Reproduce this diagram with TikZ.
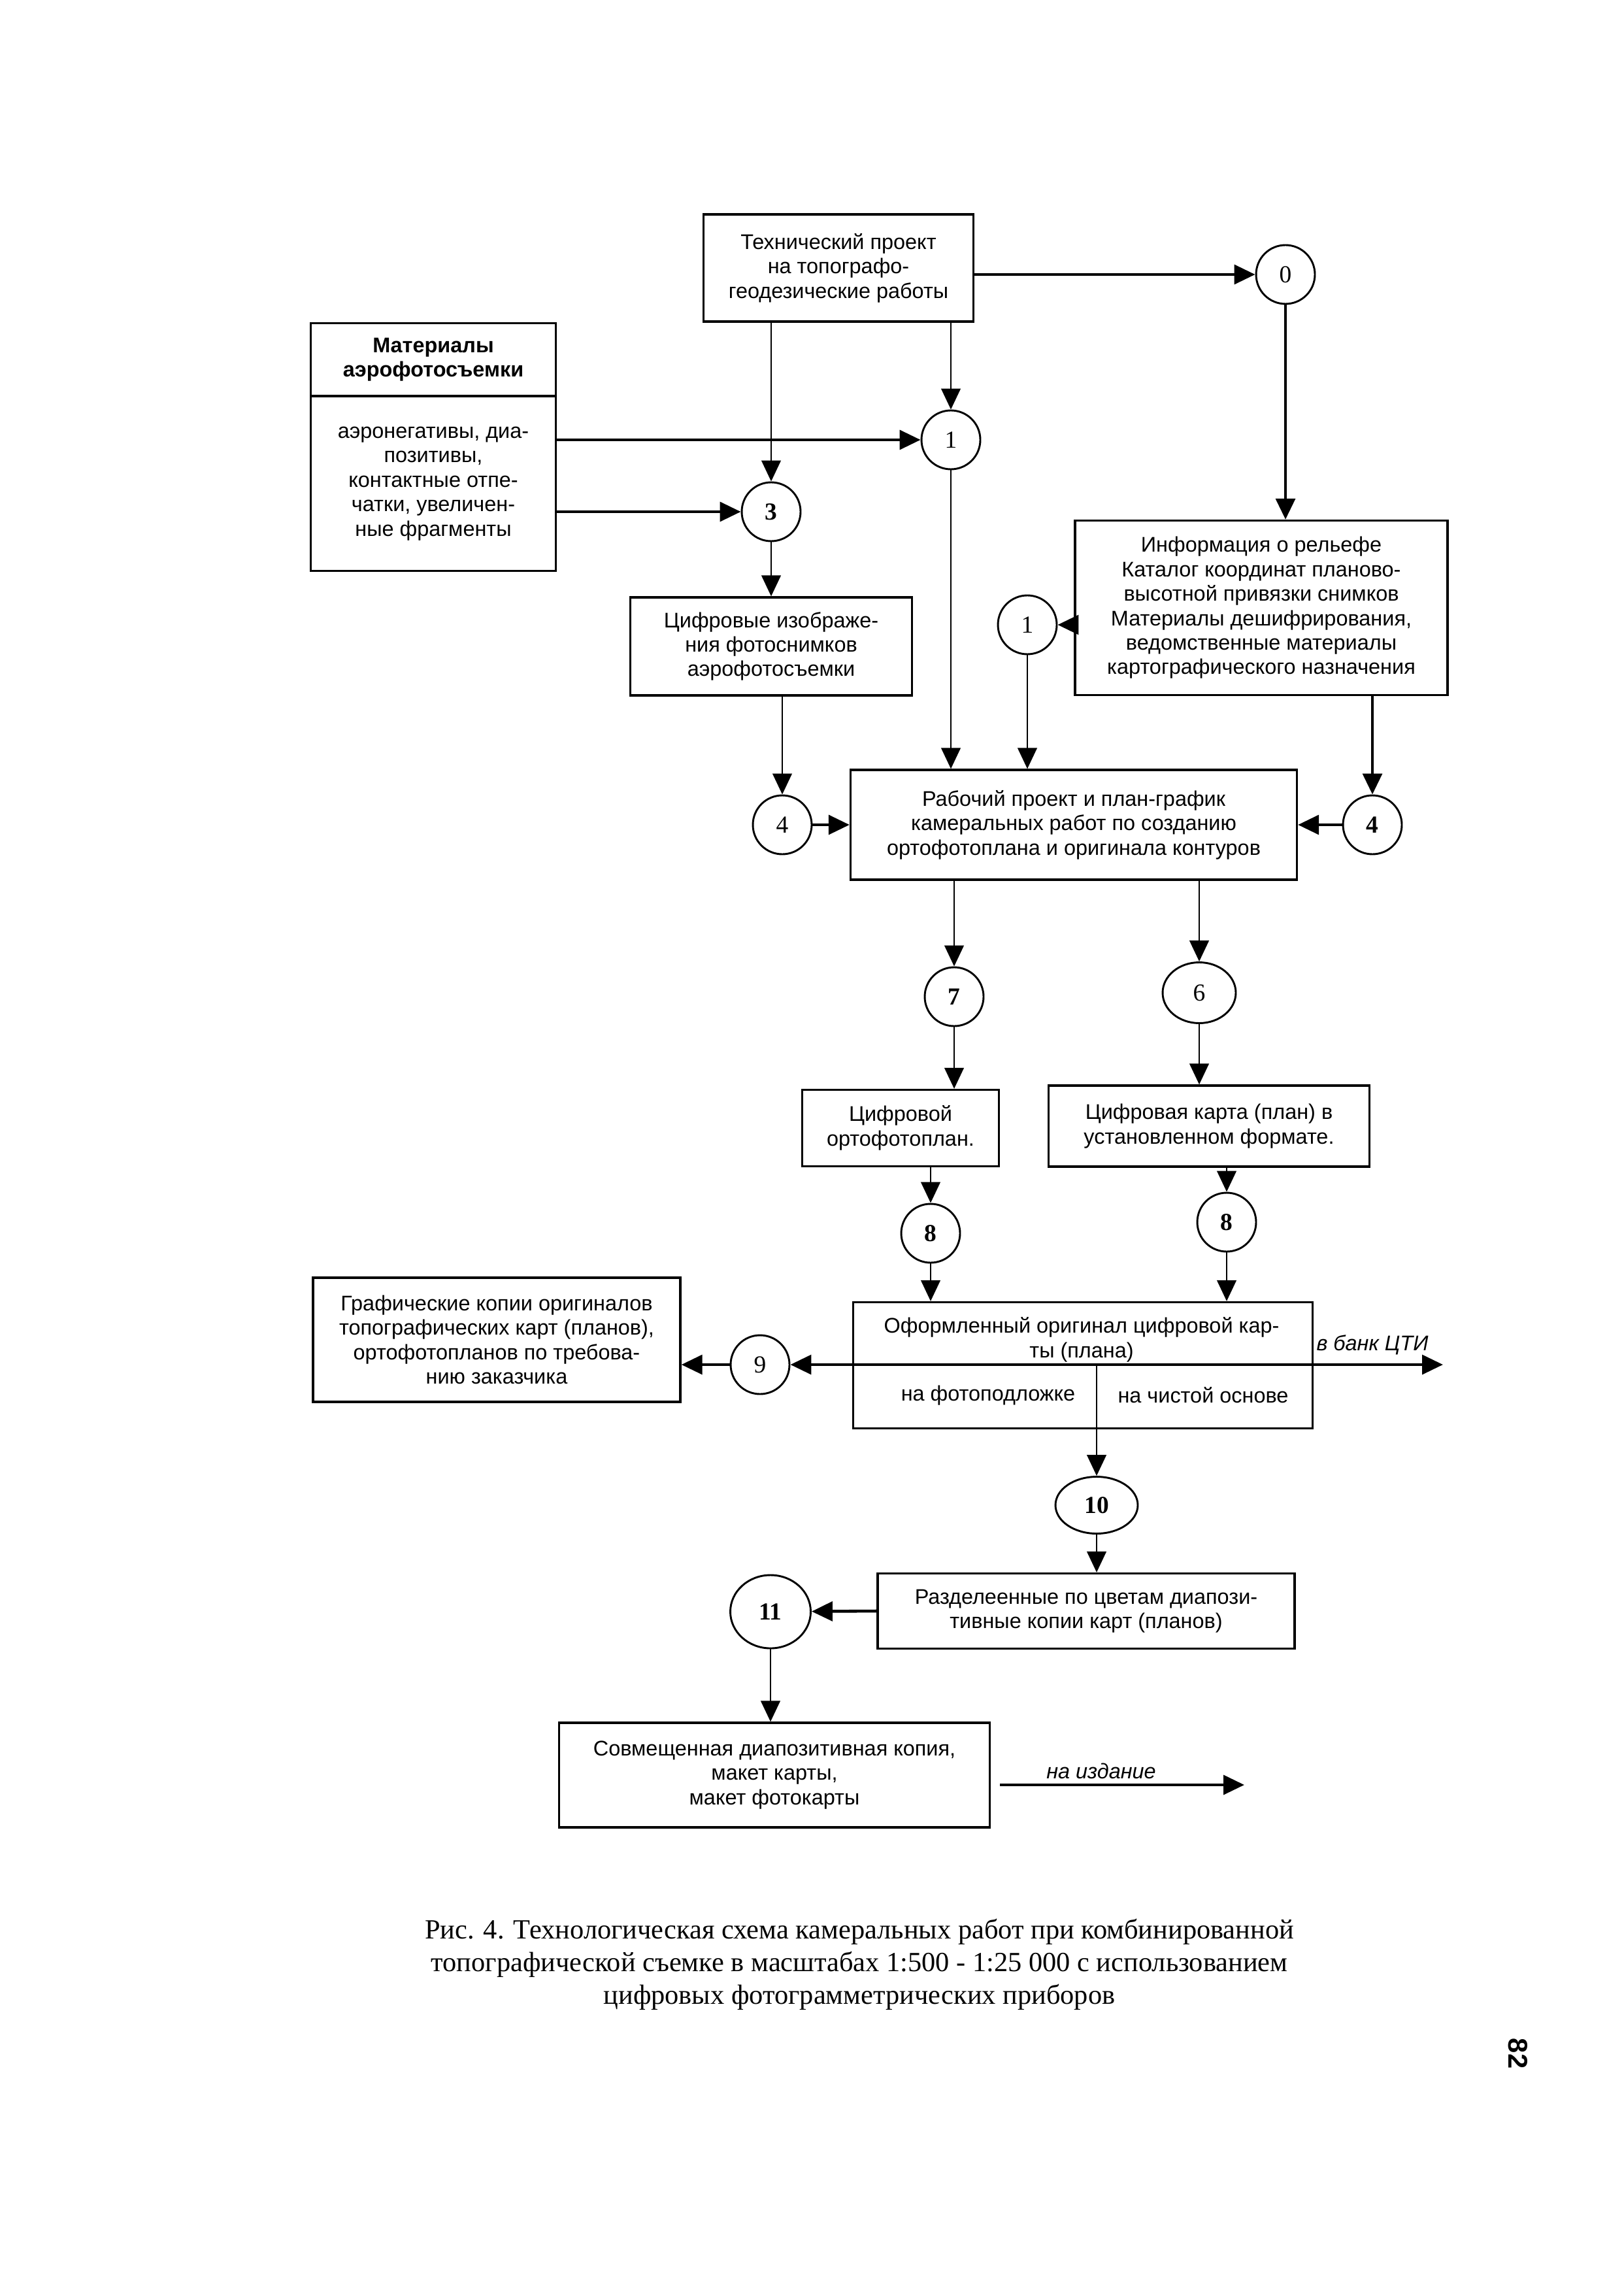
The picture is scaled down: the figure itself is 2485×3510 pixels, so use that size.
\documentclass[tikz,border=0pt]{standalone}
\usepackage{fontspec}
\setmainfont{Liberation Serif}
\setsansfont{Liberation Sans}
\usetikzlibrary{arrows.meta,shapes.geometric}
\newcommand{\pxu}{0.0084507cm}
\newcommand{\boxfont}{\sffamily\fontsize{7.8}{9}\selectfont}
\newcommand{\numfont}{\fontsize{9}{9}\selectfont}
\tikzset{
  box/.style 2 args={draw, line width=0.8pt, minimum width=#1*\pxu, minimum height=#2*\pxu,
    inner sep=0pt, align=center, font=\boxfont},
  txt/.style={inner sep=0pt, align=center, font=\boxfont},
  num/.style={circle, draw, line width=0.7pt, minimum size=90*\pxu, inner sep=0pt, font=\numfont},
  oval/.style 2 args={ellipse, draw, line width=0.7pt, minimum width=#1*\pxu, minimum height=#2*\pxu,
    inner sep=0pt, font=\numfont},
  >={Triangle[length=2.7mm,width=2.5mm]},
  flow/.style={->, line width=0.6pt},
  bold flow/.style={->, line width=1.1pt}
}
\begin{document}
\begin{tikzpicture}[x=\pxu, y=-\pxu]
\useasboundingbox (0,0) rectangle (2485,3510);
% boxes
\node[box={413}{164}] (tech) at (1283,410) {Технический проект\\на топографо-\\геодезические работы};
\node[box={375}{379}] (mat) at (663,684) {};
\coordinate (matdiv) at (663,606);
\draw[line width=0.8pt] (mat.west |- matdiv) -- (mat.east |- matdiv);
\node[txt, font=\boxfont\bfseries] (mattitle) at (663,550) {Материалы\\аэрофотосъемки};
\node[txt] (matbody) at (663,740) {аэронегативы, диа-\\позитивы,\\контактные отпе-\\чатки, увеличен-\\ные фрагменты};
\node[box={431}{150}] (dig) at (1180,989) {Цифровые изображе-\\ния фотоснимков\\аэрофотосъемки};
\node[box={570}{267}] (info) at (1930,930) {Информация о рельефе\\Каталог координат планово-\\высотной привязки снимков\\Материалы дешифрирования,\\ведомственные материалы\\картографического назначения};
\node[box={683}{168}] (work) at (1643,1262) {Рабочий проект и план-график\\камеральных работ по созданию\\ортофотоплана и оригинала контуров};
\node[box={301}{117}] (ortho) at (1378,1726) {Цифровой\\ортофотоплан.};
\node[box={491}{124}] (dmap) at (1850,1723) {Цифровая карта (план) в\\установленном формате.};
\node[box={562}{190}] (graph) at (760,2050) {Графические копии оригиналов\\топографических карт (планов),\\ортофотопланов по требова-\\нию заказчика};
\node[box={703}{193}] (orig) at (1657,2089) {};
\node[txt] (origtop) at (1655,2050) {Оформленный оригинал цифровой кар-\\ты (плана)};
\node[txt] (photo) at (1512,2135) {на фотоподложке};
\node[txt] (clean) at (1841,2135) {на чистой основе};
\node[box={638}{115}] (sep) at (1662,2465) {Разделеенные по цветам диапози-\\тивные копии карт (планов)};
\node[box={659}{160}] (comb) at (1185,2716) {Совмещенная диапозитивная копия,\\макет карты,\\макет фотокарты};
% circles
\node[num] (c0) at (1967,420) {0};
\node[num] (c1a) at (1455,673) {1};
\node[num, font=\numfont\bfseries] (c3) at (1180,783) {3};
\node[num] (c1b) at (1572,956) {1};
\node[num] (c4a) at (1197,1262) {4};
\node[num, font=\numfont\bfseries] (c4b) at (2100,1262) {4};
\node[num, font=\numfont\bfseries] (c7) at (1460,1525) {7};
\node[oval={112}{93}] (c6) at (1835,1519) {6};
\node[num, font=\numfont\bfseries] (c8a) at (1424,1887) {8};
\node[num, font=\numfont\bfseries] (c8b) at (1877,1870) {8};
\node[num] (c9) at (1163,2088) {9};
\node[oval={126}{87}, font=\numfont\bfseries] (c10) at (1678,2303) {10};
\node[oval={123}{112}, font=\numfont\bfseries] (c11) at (1179,2466) {11};
% connectors
\draw[bold flow] (tech.east |- c0) -- (c0);
\draw[bold flow] (c0) -- (c0 |- info.north);
\draw[flow] (tech.south -| c3) -- (c3);
\draw[flow] (tech.south -| c1a) -- (c1a);
\draw[bold flow] (mat.east |- c1a) -- (c1a);
\draw[bold flow] (mat.east |- c3) -- (c3);
\draw[flow] (c3) -- (c3 |- dig.north);
\draw[flow] (c1a) -- (c1a |- work.north);
\draw[bold flow] (info.west |- c1b) -- (c1b);
\draw[flow] (c1b) -- (c1b |- work.north);
\draw[flow] (dig.south -| c4a) -- (c4a);
\draw[bold flow] (c4a) -- (work.west |- c4a);
\draw[bold flow] (info.south -| c4b) -- (c4b);
\draw[bold flow] (c4b) -- (work.east |- c4b);
\draw[flow] (work.south -| c7) -- (c7);
\draw[flow] (work.south -| c6) -- (c6);
\draw[flow] (c7) -- (c7 |- ortho.north);
\draw[flow] (c6) -- (c6 |- dmap.north);
\draw[flow] (ortho.south -| c8a) -- (c8a);
\draw[flow] (dmap.south -| c8b) -- (c8b);
\draw[flow] (c8a) -- (c8a |- orig.north);
\draw[flow] (c8b) -- (c8b |- orig.north);
\coordinate (bank) at (2208,2088);
\draw[line width=1.1pt, <->] (c9) -- (bank);
\node[txt, font=\boxfont\itshape] (banklabel) at (2100,2058) {в банк ЦТИ};
\draw[bold flow] (c9) -- (graph.east |- c9);
\coordinate (split) at (1678,2088);
\draw[flow] (split) -- (c10);
\draw[flow] (c10) -- (c10 |- sep.north);
\draw[bold flow] (sep.west) -- (c11);
\draw[flow] (c11) -- (c11 |- comb.north);
\coordinate (pubA) at (1530,2731);
\coordinate (pubB) at (1904,2731);
\draw[bold flow] (pubA) -- (pubB);
\node[txt, font=\boxfont\itshape] (publabel) at (1685,2710) {на издание};
% caption
\node[align=center, font=\fontsize{10.2}{12}\selectfont] (caption) at (1315,3006) {Рис. 4. Технологическая схема камеральных работ при комбинированной\\топографической съемке в масштабах 1:500 - 1:25 000 с использованием\\цифровых фотограмметрических приборов};
\node[rotate=-90, font=\sffamily\bfseries\fontsize{10}{10}\selectfont] (pageno) at (2323,3142) {82};
\end{tikzpicture}
\end{document}
